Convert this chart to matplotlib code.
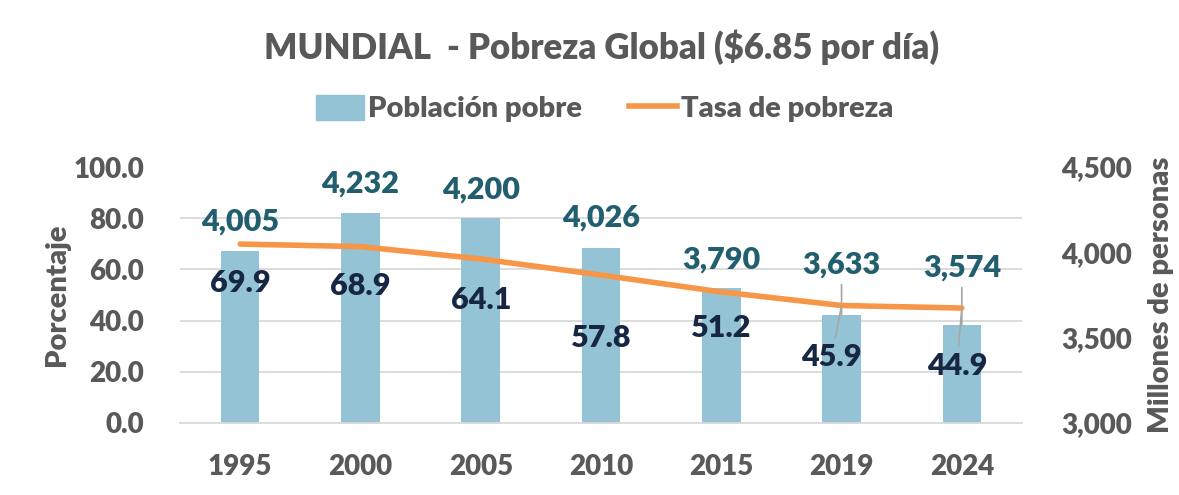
import matplotlib
matplotlib.use("Agg")
import matplotlib.pyplot as plt
from matplotlib.ticker import MultipleLocator, FuncFormatter
from matplotlib.lines import Line2D
from matplotlib.patches import Patch

years = ["1995", "2000", "2005", "2010", "2015", "2019", "2024"]
poor_pop = [4005, 4232, 4200, 4026, 3790, 3633, 3574]     # millones de personas
poverty_rate = [69.9, 68.9, 64.1, 57.8, 51.2, 45.9, 44.9]  # porcentaje

# label placement (pixel offsets) and which labels have leader lines
bar_lbl_off = [(0, 30), (0, 29), (0, 29), (0, 30), (0, 29), (0, 50), (0, 57)]
line_lbl_off = [(0, -39), (0, -39), (0, -41), (0, -63), (0, -36), (-10, -52), (-5, -58)]
leader = [False, False, False, False, False, True, True]

BAR = "#93C3D5"
ORANGE = "#F79646"
GRAY = "#595959"
GRID = "#D9D9D9"
TEAL = "#215E6E"
NAVY = "#172642"

plt.rcParams["font.family"] = ["Lato", "DejaVu Sans"]
W = "heavy"

fig = plt.figure(figsize=(11.79, 4.95), dpi=100)
ax2 = fig.add_axes([0.1527, 0.1455, 0.7141, 0.5171])   # bars, right axis
ax = ax2.twinx()                                      # line, left axis
ax.yaxis.tick_left()
ax.yaxis.set_label_position("left")
ax2.yaxis.tick_right()
ax2.yaxis.set_label_position("right")
ax.set_zorder(ax2.get_zorder() + 1)
ax.patch.set_visible(False)

x = range(len(years))
ax2.bar(x, poor_pop, width=0.32, color=BAR, zorder=2)
ax2.set_ylim(3000, 4500)
ax2.yaxis.set_major_locator(MultipleLocator(500))
ax2.yaxis.set_minor_locator(MultipleLocator(300))
ax2.yaxis.set_major_formatter(FuncFormatter(lambda v, p: f"{v:,.0f}"))
ax2.grid(which="minor", axis="y", color=GRID, lw=1.3, zorder=0)
ax2.set_axisbelow(True)
ax2.tick_params(axis="y", which="both", length=0, pad=28, labelsize=20, labelcolor=GRAY)
ax2.tick_params(axis="x", length=0, pad=22, labelsize=20, labelcolor=GRAY)
ax2.set_xticks(list(x))
ax2.set_xticklabels(years, fontweight=W)
for t in ax2.get_yticklabels():
    t.set_fontweight(W)
ax2.set_xlim(-0.5, len(years) - 0.5)
ax2.set_ylabel("Millones de personas", fontsize=21, color=GRAY, labelpad=12, fontweight=W)

ax.plot(x, poverty_rate, color=ORANGE, lw=4, solid_capstyle="round", zorder=3)
ax.set_ylim(0, 100)
ax.yaxis.set_major_locator(MultipleLocator(20))
ax.yaxis.set_major_formatter(FuncFormatter(lambda v, p: f"{v:.1f}"))
ax.tick_params(axis="y", length=0, pad=26, labelsize=20, labelcolor=GRAY)
for t in ax.get_yticklabels():
    t.set_fontweight(W)
ax.set_ylabel("Porcentaje", fontsize=21, color=GRAY, labelpad=2, fontweight=W)

for a in (ax, ax2):
    for s in a.spines.values():
        s.set_visible(False)
ax2.spines["bottom"].set_visible(True)
ax2.spines["bottom"].set_color(GRID)
ax2.spines["bottom"].set_linewidth(1.3)

lead = dict(arrowstyle="-", color="#A6A6A6", lw=1.2, shrinkA=2, shrinkB=0)
for i in x:
    ax2.annotate(f"{poor_pop[i]:,}", (i, poor_pop[i]), xytext=bar_lbl_off[i],
                 textcoords="offset pixels", ha="center", va="center",
                 fontsize=22, color=TEAL, fontweight=W,
                 arrowprops=lead if leader[i] else None)
    ax.annotate(f"{poverty_rate[i]:.1f}", (i, poverty_rate[i]), xytext=line_lbl_off[i],
                textcoords="offset pixels", ha="center", va="center",
                fontsize=22, color=NAVY, fontweight=W,
                arrowprops=lead if leader[i] else None)

fig.suptitle("MUNDIAL  - Pobreza Global ($6.85 por día)", x=0.51, y=0.94, fontsize=25,
             color=GRAY, fontweight=W)

handles = [Patch(color=BAR, label="Población pobre"),
           Line2D([], [], color=ORANGE, lw=4, label="Tasa de pobreza")]
leg = fig.legend(handles=handles, loc="center", bbox_to_anchor=(0.513, 0.78), ncol=2,
                 frameon=False, fontsize=21, labelcolor=GRAY, handlelength=1.65,
                 handletextpad=0.15, columnspacing=1.6, handleheight=0.9)
for t in leg.get_texts():
    t.set_fontweight(W)

fig.savefig("out.png", dpi=100)
